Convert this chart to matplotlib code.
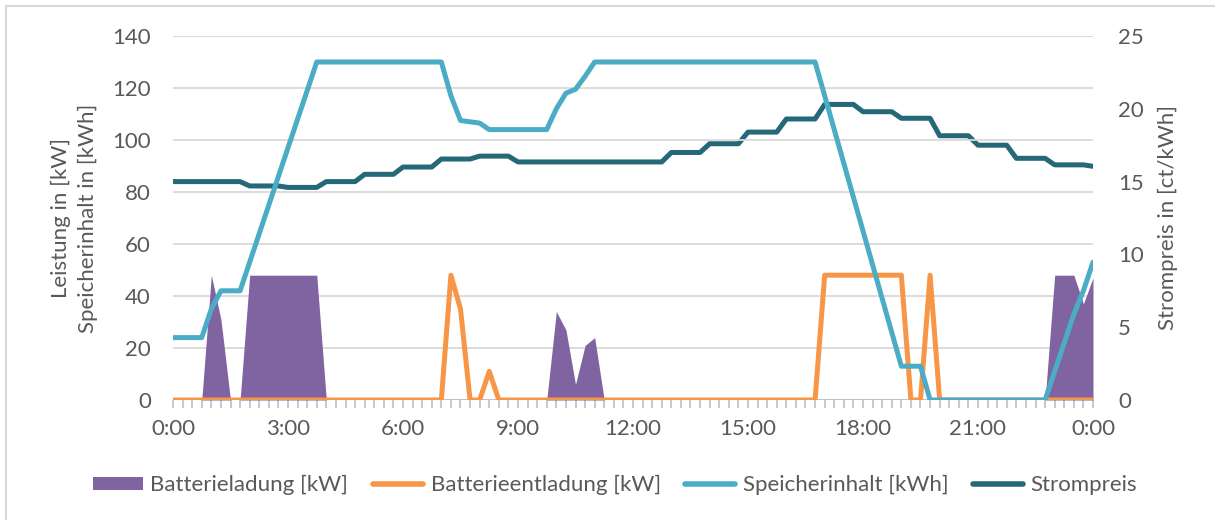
import numpy as np
import matplotlib.pyplot as plt
from matplotlib.patches import Rectangle

plt.rcParams['font.family'] = ['Lato', 'DejaVu Sans']

## Data: 15-min steps, 0:00 .. 24:00 (97 points)
charge_kw = [
    0, 0, 0, 0, 48, 31, 0, 0, 48, 48, 48, 48,
    48, 48, 48, 48, 0, 0, 0, 0, 0, 0, 0, 0,
    0, 0, 0, 0, 0, 0, 0, 0, 0, 0, 0, 0,
    0, 0, 0, 0, 34, 27, 6, 21, 24, 0, 0, 0,
    0, 0, 0, 0, 0, 0, 0, 0, 0, 0, 0, 0,
    0, 0, 0, 0, 0, 0, 0, 0, 0, 0, 0, 0,
    0, 0, 0, 0, 0, 0, 0, 0, 0, 0, 0, 0,
    0, 0, 0, 0, 0, 0, 0, 0, 48, 48, 48, 37,
    47]
discharge_kw = [
    0, 0, 0, 0, 0, 0, 0, 0, 0, 0, 0, 0,
    0, 0, 0, 0, 0, 0, 0, 0, 0, 0, 0, 0,
    0, 0, 0, 0, 0, 48, 35, 0, 0, 11, 0, 0,
    0, 0, 0, 0, 0, 0, 0, 0, 0, 0, 0, 0,
    0, 0, 0, 0, 0, 0, 0, 0, 0, 0, 0, 0,
    0, 0, 0, 0, 0, 0, 0, 0, 48, 48, 48, 48,
    48, 48, 48, 48, 48, 0, 0, 48, 0, 0, 0, 0,
    0, 0, 0, 0, 0, 0, 0, 0, 0, 0, 0, 0,
    0]
storage_kwh = [
    24, 24, 24, 24, 35, 42, 42, 42, 53, 64, 75, 86,
    97, 108, 119, 130, 130, 130, 130, 130, 130, 130, 130, 130,
    130, 130, 130, 130, 130, 117, 107.5, 107, 106.5, 104, 104, 104,
    104, 104, 104, 104, 112, 118, 119.5, 124.5, 130, 130, 130, 130,
    130, 130, 130, 130, 130, 130, 130, 130, 130, 130, 130, 130,
    130, 130, 130, 130, 130, 130, 130, 130, 117, 104, 91, 78,
    65, 52, 39, 26, 13, 13, 13, 0, 0, 0, 0, 0,
    0, 0, 0, 0, 0, 0, 0, 0, 11, 22, 33, 42,
    53]
price_hourly = [15.0, 15.0, 14.7, 14.6, 15.0, 15.5, 16.0, 16.55, 16.75, 16.35,
                16.35, 16.35, 16.35, 17.0, 17.6, 18.4, 19.3, 20.3, 19.8, 19.35,
                18.15, 17.5, 16.6, 16.15]
price_end = 16.05
time_labels = ["0:00", "3:00", "6:00", "9:00", "12:00", "15:00", "18:00", "21:00", "0:00"]

price = list(np.repeat(price_hourly, 4)) + [price_end]
x = np.arange(len(storage_kwh))

c_charge = "#8064A2"
c_dis = "#F79646"
c_sto = "#4BACC6"
c_price = "#256878"
c_text = "#595959"
c_grid = "#D9D9D9"
fs = 16

fig = plt.figure(figsize=(12.15, 5.2), dpi=100)
ax = fig.add_axes([173 / 1215, 120 / 520, (1093 - 173) / 1215, 364 / 520])
ax2 = ax.twinx()
ax2.set_zorder(ax.get_zorder() - 1)
ax.patch.set_visible(False)

# chart border (cut at right / bottom in the original)
fig.patches.append(Rectangle((6 / 1215, -0.1), 1.2, 1 - 6 / 520 + 0.1, transform=fig.transFigure,
                             fill=False, edgecolor="#D9D9D9", lw=1.5))

ax.fill_between(x, charge_kw, 0, color=c_charge, lw=0, zorder=2)
kw = dict(lw=3.6, solid_joinstyle='round', solid_capstyle='round')
ax.plot(x, discharge_kw, color=c_dis, zorder=3, **kw)
ax.plot(x, storage_kwh, color=c_sto, zorder=4, **kw)
ax2.plot(x, price, color=c_price, **kw)

ax.set_xlim(0, 96)
ax.set_ylim(0, 140)
ax2.set_ylim(0, 25)
ax.set_yticks(np.arange(0, 141, 20))
ax2.set_yticks(np.arange(0, 26, 5))
ax.set_xticks(np.arange(0, 97, 12))
ax.set_xticklabels(time_labels)
ax.set_xticks(x, minor=True)

ax.grid(axis='y', color=c_grid, lw=1.3, zorder=0)
ax.set_axisbelow(True)
for a in (ax, ax2):
    for s in ('top', 'left', 'right', 'bottom'):
        a.spines[s].set_visible(False)
ax.axhline(0, color="#BFBFBF", lw=1.3, zorder=1)

ax.tick_params(axis='y', length=0, pad=16, labelsize=fs, labelcolor=c_text)
ax2.tick_params(axis='y', length=0, pad=18, labelsize=fs, labelcolor=c_text)
ax.tick_params(axis='x', which='both', length=6, color="#BFBFBF", width=1.2,
               pad=8, labelsize=fs, labelcolor=c_text)

ax.set_ylabel("Leistung in [kW]\nSpeicherinhalt in [kWh]", fontsize=fs, color=c_text,
              labelpad=10, linespacing=1.45)
ax2.set_ylabel("Strompreis in [ct/kWh]", fontsize=fs, color=c_text, labelpad=10)

handles = [Rectangle((0, 0), 1, 1, facecolor=c_charge, edgecolor='none'),
           plt.Line2D([], [], color=c_dis, lw=4, solid_capstyle='round'),
           plt.Line2D([], [], color=c_sto, lw=4, solid_capstyle='round'),
           plt.Line2D([], [], color=c_price, lw=4, solid_capstyle='round')]
names = ["Batterieladung [kW]", "Batterieentladung [kW]", "Speicherinhalt [kWh]", "Strompreis"]
leg = fig.legend(handles, names, loc='center', bbox_to_anchor=(615 / 1215, 1 - 485 / 520),
                 ncol=4, frameon=False, fontsize=fs, handlelength=2.25, handleheight=0.55,
                 handletextpad=0.35, columnspacing=1.1)
for t in leg.get_texts():
    t.set_color(c_text)

fig.savefig("out.png", dpi=100)
